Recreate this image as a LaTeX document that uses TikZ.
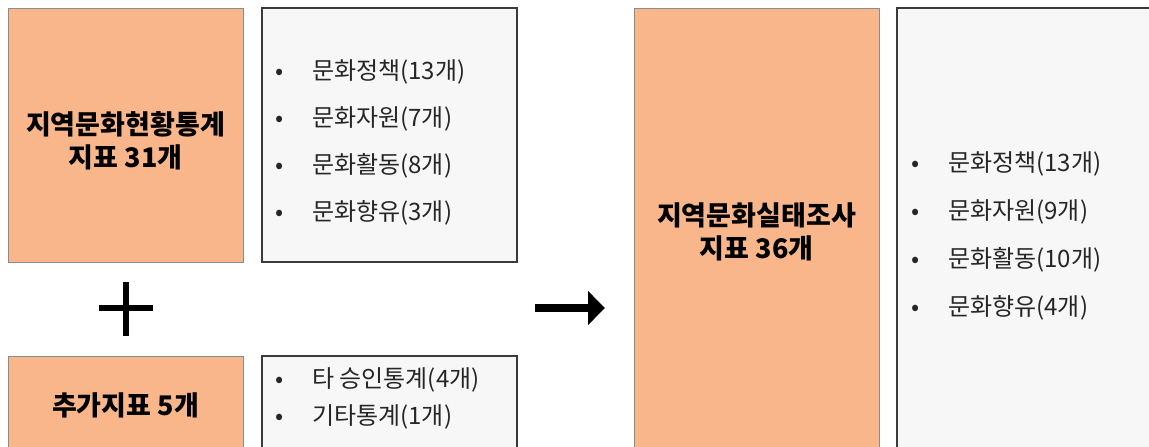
\documentclass[tikz,border=0pt]{standalone}
\usepackage{fontspec}
\setmainfont{Noto Sans CJK KR}
\usepackage{xcolor}
\usetikzlibrary{arrows.meta}
\definecolor{peach}{HTML}{F8B68A}
\definecolor{paper}{HTML}{F7F7F7}
\definecolor{frame}{HTML}{3A3A3A}

\begin{document}
\begin{tikzpicture}[x=1pt, y=-1pt,
    orangebox/.style={draw=gray!90, line width=0.8pt, fill=peach, inner sep=0pt,
        font=\fontsize{27}{33}\selectfont\bfseries, align=center},
    boxtitle/.style={inner sep=0pt, font=\fontsize{27}{33}\selectfont\bfseries, align=center},
    listbox/.style={draw=frame, line width=1.2pt, fill=paper, inner sep=0pt},
    listtext/.style={anchor=west, align=left, inner sep=0pt, text=black!85}]
    \useasboundingbox (0,0) rectangle (1149,447);
    \clip (0,0) rectangle (1149,447);

    % 현황통계 지표
    \node[orangebox, minimum width=235pt, minimum height=254pt] (hyunhwang) at (125.5,135) {};
    \node[boxtitle] (hyuntitle) at (125.5,141) {지역문화현황통계\\지표 31개};
    \node[listbox, minimum width=255pt, minimum height=254pt] (hyunlist) at (389.5,135) {};
    \node[listtext, font=\fontsize{24}{47}\selectfont] (hyunitems) at (275,142.5)
        {\makebox[37pt][l]{•}문화정책(13개)\\
         \makebox[37pt][l]{•}문화자원(7개)\\
         \makebox[37pt][l]{•}문화활동(8개)\\
         \makebox[37pt][l]{•}문화향유(3개)};

    % 더하기
    \draw[line width=6pt] (99,308) -- (153,308);
    \draw[line width=6pt] (126,282) -- (126,336);

    % 추가지표
    \node[orangebox, minimum width=235pt, minimum height=98pt] (chuga) at (125.5,405)
        {추가지표 5개};
    \node[listbox, minimum width=255pt, minimum height=98pt] (chugalist) at (389.5,405) {};
    \node[listtext, font=\fontsize{24}{37}\selectfont] (chugaitems) at (275,398.5)
        {\makebox[37pt][l]{•}타 승인통계(4개)\\
         \makebox[37pt][l]{•}기타통계(1개)};

    % 화살표
    \coordinate (arrowfrom) at (535,308);
    \coordinate (arrowto) at (605,308);
    \draw[line width=8pt, -{Triangle[length=17pt, width=33pt]}] (arrowfrom) -- (arrowto);

    % 실태조사 지표
    \node[orangebox, minimum width=245pt, minimum height=448pt] (siltae) at (756.5,232)
        {지역문화실태조사\\지표 36개};
    \node[listbox, minimum width=280pt, minimum height=448pt] (siltaelist) at (1037,232) {};
    \node[listtext, font=\fontsize{24}{48}\selectfont] (siltaeitems) at (911,235.5)
        {\makebox[37pt][l]{•}문화정책(13개)\\
         \makebox[37pt][l]{•}문화자원(9개)\\
         \makebox[37pt][l]{•}문화활동(10개)\\
         \makebox[37pt][l]{•}문화향유(4개)};
\end{tikzpicture}
\end{document}
